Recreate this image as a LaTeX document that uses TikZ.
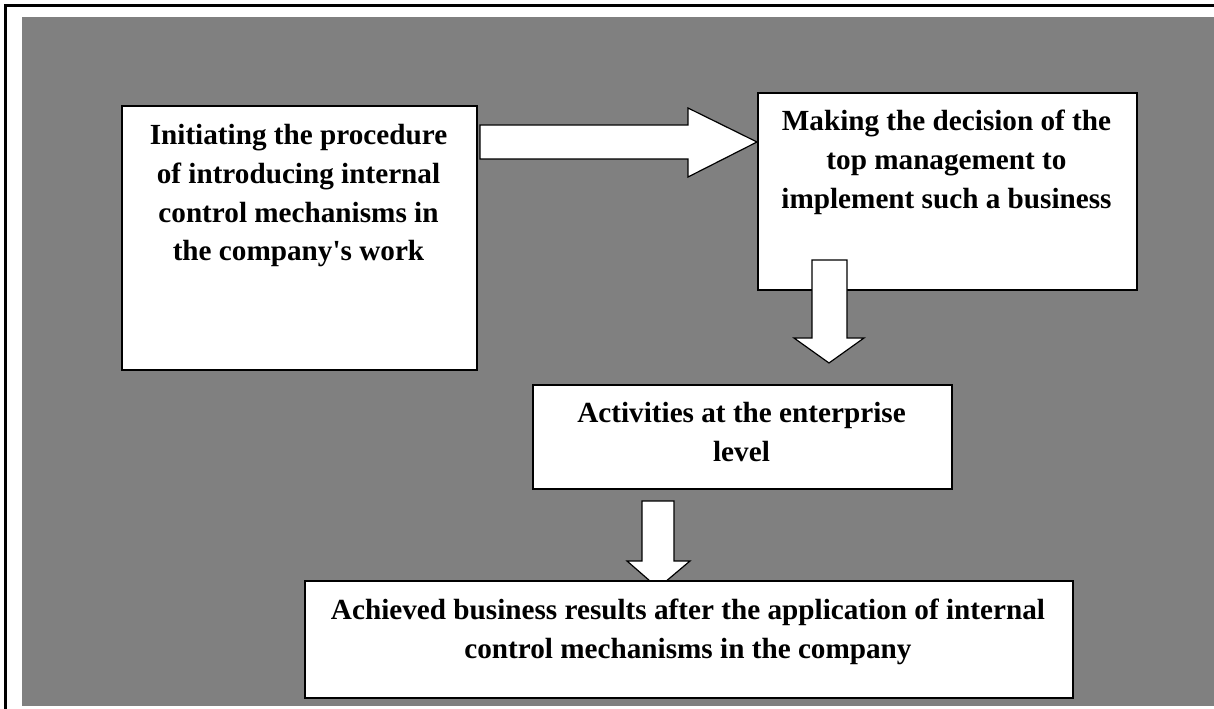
\documentclass[tikz,border=0pt]{standalone}
\usepackage{fontspec}
\setmainfont{Liberation Serif}
\begin{document}
\begin{tikzpicture}[x=0.75pt,y=-0.75pt,
  box/.style={draw=black, fill=white, line width=1.3pt, inner sep=0pt, anchor=north west},
  txt/.style={align=center, inner sep=0pt, anchor=north, font=\bfseries\fontsize{21.9}{29.1}\selectfont},
  blockarrow/.style={draw=black, fill=white, line width=0.9pt, line join=miter}]
\useasboundingbox (0,0) rectangle (1214,709);
% background
\fill[black!50] (22,17) rectangle (1216,706);
\draw[line width=1.6pt] (5.5,712) -- (5.5,5.5) -- (1216,5.5);
% box 1
\node[box, minimum width=355*0.75pt, minimum height=264*0.75pt] (b1) at (121,105) {};
\node[txt] (t1) at (298.5,124) {Initiating the procedure\\of introducing internal\\control mechanisms in\\the company\textquotesingle s work};
% box 2
\node[box, minimum width=379*0.75pt, minimum height=197*0.75pt] (b2) at (757,92) {};
\node[txt] (t2) at (946.5,110) {Making the decision of the\\top management to\\implement such a business};
% right arrow
\draw[blockarrow] (480,125) -- (688,125) -- (688,108) -- (757,142) -- (688,177) -- (688,159) -- (480,159) -- cycle;
% down arrow 1
\draw[blockarrow] (812,260) -- (847,260) -- (847,338) -- (864,338) -- (829,363) -- (794,338) -- (812,338) -- cycle;
% box 3
\node[box, minimum width=419*0.75pt, minimum height=104*0.75pt] (b3) at (532,384) {};
\node[txt] (t3) at (741.5,402) {Activities at the enterprise\\level};
% down arrow 2
\draw[blockarrow] (642,501) -- (674,501) -- (674,561) -- (690,561) -- (658,588) -- (627,561) -- (642,561) -- cycle;
% box 4
\node[box, minimum width=768*0.75pt, minimum height=117*0.75pt] (b4) at (304,580) {};
\node[txt] (t4) at (688,599) {Achieved business results after the application of internal\\control mechanisms in the company};
\end{tikzpicture}
\end{document}
